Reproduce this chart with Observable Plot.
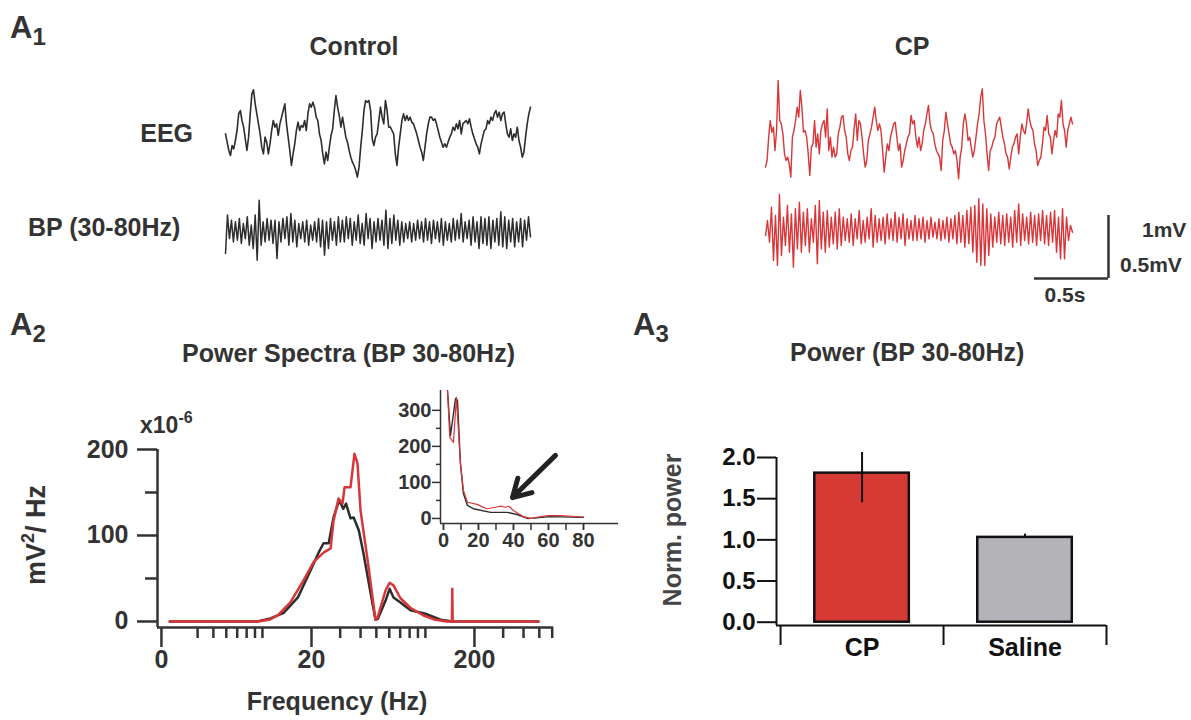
<!DOCTYPE html>
<html><head><meta charset="utf-8">
<script src="https://cdn.jsdelivr.net/npm/d3@7"></script>
<script src="https://cdn.jsdelivr.net/npm/@observablehq/plot@0.6"></script>
<style>
body{margin:0;background:#fff;}
#fig{position:relative;width:1191px;height:720px;overflow:hidden;background:#fff;}
</style></head><body><div id="fig"></div>
<script>
// ---------- A1 traces (µV, uniformly sampled over TRACE_SEC seconds) ----------
const TRACE_SEC = 2.06;
const controlEEG = [-50,-175,-300,-375,-225,-275,-150,0,250,300,150,50,-125,-300,-100,250,550,610,400,250,100,-50,-250,-350,-100,-175,-350,-200,0,150,50,100,-75,100,200,300,400,100,-100,-300,-525,-350,-200,0,125,0,75,50,150,0,250,400,350,425,350,200,150,-50,-150,-350,-500,-325,-450,-250,-75,25,300,525,350,225,50,200,50,-100,-175,-300,-400,-475,-525,-600,-700,-550,-250,0,300,450,425,450,300,-125,-225,-100,-50,150,350,200,100,450,300,50,50,0,-50,-350,-525,-250,-50,150,250,150,225,150,200,125,100,25,-50,-150,-250,-325,-450,-250,-50,100,200,200,150,175,100,0,-100,-175,-250,-200,-250,-175,-100,-50,50,0,100,25,150,-50,100,125,150,100,175,50,-50,-125,-200,-250,-350,-200,-100,0,25,150,100,200,150,250,300,200,275,150,250,275,100,-50,-100,25,-150,-50,-100,50,-150,-250,-400,-325,-100,100,250,350];
const controlBP = [-150,138,-38,100,-63,88,-50,113,-75,75,-38,125,-88,63,-113,138,-200,250,-88,88,-63,113,-50,100,-75,100,-188,88,-63,113,-38,125,-88,150,-63,100,-100,75,-38,88,-63,100,-88,63,-50,88,-63,113,-100,100,-163,88,-113,113,-50,88,-88,125,-63,100,-63,125,-38,113,-88,88,-50,138,-75,75,-88,150,-38,113,-113,88,-63,113,-50,100,-88,175,-113,113,-75,138,-50,100,-88,88,-63,75,-38,88,-63,75,-50,100,-38,88,-63,113,-50,88,-75,100,-38,88,-63,113,-88,88,-50,75,-63,113,-50,100,-38,150,-63,88,-38,100,-88,125,-63,88,-113,125,-75,113,-88,125,-113,100,-63,113,-88,163,-100,125,-113,100,-63,113,-100,88,-63,113,-100,100,-50,125,-25];
const cpEEG = [-550,-450,-100,150,-25,50,-300,0,750,150,100,-50,-350,-450,-400,-500,-700,-100,0,150,350,200,600,350,-25,0,-100,-350,-675,-250,-200,150,-250,-50,-350,0,100,150,-100,325,-300,-100,-400,-250,-400,-350,-50,50,200,225,0,-100,-350,-450,-300,-250,25,250,-150,150,100,-100,-350,-550,-450,-150,-50,50,200,350,150,0,100,0,-300,-625,-400,-200,-300,-100,0,100,125,-100,-300,-200,-550,-450,-300,-200,-100,-50,225,100,150,-100,-250,-100,-300,-200,0,100,250,375,100,0,-50,-200,-300,-350,-400,-600,-150,0,275,100,-50,-200,-250,-350,-300,-450,-725,-400,-250,100,250,100,-150,-100,-250,-400,-300,-100,100,250,500,625,150,-50,-350,-600,-300,-250,-150,-100,100,150,200,50,-100,-200,-350,-400,-575,-400,-250,-200,-100,-50,-350,-100,100,0,-50,100,325,150,50,0,-200,-300,-525,-450,-400,-200,50,0,225,-50,-100,-350,-150,0,-100,250,200,450,100,0,-250,0,100,200,100];
const cpBP = [-38,75,-88,175,-225,113,-263,270,-188,100,-113,188,-163,125,-275,163,-138,213,-163,138,-113,163,-163,88,-88,188,-250,225,-138,138,-163,150,-125,100,-100,138,-138,163,-113,100,-75,88,-88,125,-113,88,-63,150,-100,75,-88,100,-63,163,-125,113,-88,88,-75,100,-100,125,-63,88,-75,138,-88,100,-63,125,-113,88,-63,75,-75,113,-75,88,-63,100,-88,75,-63,100,-50,63,-63,88,-75,75,-63,100,-88,88,-63,113,-100,138,-88,113,-125,150,-100,175,-163,188,-238,238,-263,200,-263,163,-188,125,-125,100,-88,138,-100,113,-113,125,-88,100,-125,150,-88,200,-113,125,-75,100,-100,138,-88,113,-113,125,-75,150,-100,113,-113,138,-88,150,-163,100,-213,163,-213,100,-75,38,-13];
const scaleBarSec = [0.5];
const scaleBarMV = [1];

// ---------- A2 power spectra (x10^-6 mV²/Hz) ----------
const specBlackHz  = [2.7, 9.3, 11.2, 13.5, 16.5, 19.7, 22.1, 23.7, 25.5, 27.3, 29.6, 31.3, 32.6, 34.7, 36.3, 39, 41.7, 46.1, 49.4, 51, 56.9, 60.3, 63.7, 70.3, 81, 100, 124, 147, 494];
const specBlackPow = [0, 0, 3.5, 10, 28, 59, 80, 91, 91, 121, 141, 131, 137, 120, 121, 106, 79, 33, 2, 3, 24, 38, 28, 22, 13, 9, 2, 0, 0];
const specRedHz  = [2.7, 9.3, 11, 12.4, 14.8, 17.9, 20.6, 23.7, 26.2, 27.3, 29.3, 31, 31.9, 34.7, 36.7, 38.3, 40, 44, 49.4, 51, 56.9, 60.3, 63.7, 70.3, 80.9, 97.3, 115, 136, 145.5, 146.2, 147, 494];
const specRedPow = [0, 0, 2, 7, 22, 48, 69, 80, 85, 117, 143, 137, 156, 156, 195, 184, 129, 74, 2, 5, 36, 45, 42, 27, 16, 7, 2, 0, 0, 38, 0, 0];
const specYMajor = [0, 100, 200];
const specYMinor = [50, 150];
const specXMajor = [2.4, 20, 200];
const specXMajorLabels = ["0", "20", "200"];
const specXMinor = [4, 5, 6, 7, 8, 9, 10, 30, 40, 50, 60, 70, 80, 90, 100, 300, 400, 500, 600];

// inset
const insetBlackHz  = [2.3, 4, 6.9, 8, 9.7, 11.4, 13.7, 17, 26.9, 36.6, 42, 48, 51.6, 61, 80];
const insetBlackPow = [355, 230, 333, 328, 152, 69, 36, 27, 17, 17, 11, 0, 1, 5, 3];
const insetRedHz  = [2.3, 3.6, 5.7, 7.4, 9.7, 11.4, 13.7, 19.2, 24.8, 29.7, 32.6, 35.4, 37.3, 40, 45.7, 49.7, 59.4, 66.9, 80];
const insetRedPow = [355, 225, 211, 336, 152, 78, 45, 39, 27, 31, 34, 31, 34, 22, 5, 0, 8, 8, 4];
const insetYMajor = [0, 100, 200, 300];
const insetYMinor = [50, 150, 250];
const insetXTicks = [0, 10, 20, 30, 40, 50, 60, 70, 80];
const insetXLabels = [0, 20, 40, 60, 80];
const insetArrow = [{x1: 64, y1: 175, x2: 39.4, y2: 58}];

// ---------- A3 bars ----------
const barCategories = ["CP", "Saline"];
const barValues = [1.81, 1.03];
const barLow = [1.45, 1.03];
const barHigh = [2.06, 1.07];
const barColors = ["#d63a35", "#b4b4b8"];
const barYTicks = [0, 0.5, 1, 1.5, 2];

// ---------- rendering ----------
const FONT = '"Liberation Sans", Arial, Helvetica, sans-serif';
const INK = "#333333";
const BLACK = "#2d2d2d";
const RED = "#d9363a";
const fig = document.getElementById("fig");

function place(svg, left, top) {
  svg.setAttribute("style", `position:absolute;left:${left}px;top:${top}px;overflow:visible;background:none;max-width:none;font-family:${FONT};`);
  fig.appendChild(svg);
}

function trace(values, left, top, width, height, half, color, sw) {
  const data = values.map((v, i) => ({t: i / (values.length - 1) * TRACE_SEC, v}));
  const svg = Plot.plot({
    width, height, margin: 0,
    x: {domain: [0, TRACE_SEC], axis: null},
    y: {domain: [-half, half], axis: null},
    marks: [Plot.line(data, {x: "t", y: "v", stroke: color, strokeWidth: sw, strokeLinejoin: "round"})]
  });
  place(svg, left, top);
}

trace(controlEEG, 225, 80, 305, 100, 750, BLACK, 1.6);
trace(controlBP, 225, 195, 305, 76, 285, BLACK, 1.5);
trace(cpEEG, 765, 80, 307, 100, 750, RED, 1.4);
trace(cpBP, 765, 192, 307, 76, 285, RED, 1.4);

// scale bar
{
  const svg = Plot.plot({
    width: 74, height: 63, margin: 0,
    x: {domain: [0, scaleBarSec[0]], axis: null},
    y: {domain: [0, scaleBarMV[0]], axis: null},
    marks: [
      Plot.ruleY([0], {x1: 0, x2: scaleBarSec[0], stroke: INK, strokeWidth: 2.5}),
      Plot.ruleX(scaleBarSec, {y1: 0, y2: scaleBarMV[0], stroke: INK, strokeWidth: 2.5})
    ]
  });
  place(svg, 1034, 215);
}

// main spectrum
{
  const XMIN = 2.27, XMAX = 611, YMIN = -7, YMAX = 200;
  const H = 340, MT = 69, MB = 93;
  const black = specBlackHz.map((f, i) => ({f, p: specBlackPow[i]}));
  const red = specRedHz.map((f, i) => ({f, p: specRedPow[i]}));
  const majors = specXMajor.map((f, i) => ({f, label: specXMajorLabels[i]}));
  const common = {stroke: INK, strokeWidth: 2.5, label: null, fontSize: 25, fontWeight: "bold", fill: INK};
  const svg = Plot.plot({
    width: 580, height: H,
    marginLeft: 157, marginRight: 27, marginTop: MT, marginBottom: MB,
    x: {type: "log", domain: [XMIN, XMAX]},
    y: {domain: [YMIN, YMAX]},
    marks: [
      Plot.axisY(specYMajor, {...common, tickSize: 20, tickPadding: 9}),
      Plot.axisY(specYMinor, {...common, tickSize: 12, fill: "none"}),
      Plot.tickX(majors, {x: "f", stroke: INK, strokeWidth: 2.5, insetTop: H - MT - MB, insetBottom: -20}),
      Plot.axisX(specXMinor, {...common, tickSize: 11, fill: "none"}),
      Plot.text(majors, {x: "f", text: "label", frameAnchor: "bottom", dy: 40, fontSize: 25, fontWeight: "bold", fill: INK}),
      Plot.ruleX([XMIN], {y1: YMIN, y2: YMAX, stroke: INK, strokeWidth: 2.5}),
      Plot.ruleY([YMIN], {x1: XMIN, x2: XMAX, stroke: INK, strokeWidth: 2.5}),
      Plot.line(black, {x: "f", y: "p", stroke: BLACK, strokeWidth: 2.5}),
      Plot.line(red, {x: "f", y: "p", stroke: RED, strokeWidth: 2.5})
    ]
  });
  place(svg, 0, 380);
}

// inset
{
  const XMIN = -1.7, XMAX = 100, YMIN = -14, YMAX = 355;
  const black = insetBlackHz.map((f, i) => ({f, p: insetBlackPow[i]}));
  const red = insetRedHz.map((f, i) => ({f, p: insetRedPow[i]}));
  const common = {stroke: INK, strokeWidth: 1.5, label: null, fontSize: 20, fontWeight: "bold", fill: INK};
  const svg = Plot.plot({
    width: 230, height: 190,
    marginLeft: 40, marginRight: 12, marginTop: 20, marginBottom: 37,
    x: {domain: [XMIN, XMAX]},
    y: {domain: [YMIN, YMAX]},
    marks: [
      Plot.axisY(insetYMajor, {...common, tickSize: 8, tickPadding: 1}),
      Plot.axisY(insetYMinor, {...common, tickSize: 4, fill: "none"}),
      Plot.axisX(insetXTicks, {...common, tickSize: 7, fill: "none"}),
      Plot.axisX(insetXLabels, {...common, tickSize: 7, tickPadding: 2}),
      Plot.ruleX([XMIN], {y1: YMIN, y2: YMAX, stroke: INK, strokeWidth: 1.5}),
      Plot.ruleY([YMIN], {x1: XMIN, x2: XMAX, stroke: INK, strokeWidth: 1.5}),
      Plot.line(black, {x: "f", y: "p", stroke: BLACK, strokeWidth: 1.4}),
      Plot.line(red, {x: "f", y: "p", stroke: RED, strokeWidth: 1.2}),
      Plot.arrow(insetArrow, {x1: "x1", y1: "y1", x2: "x2", y2: "y2", stroke: "#222", strokeWidth: 5, headLength: 16})
    ]
  });
  place(svg, 400, 370);
}

// bar chart
{
  const XMIN = -0.025, XMAX = 2, YMIN = -0.04, YMAX = 2.0;
  const bars = barCategories.map((name, i) => ({i, name, v: barValues[i], lo: barLow[i], hi: barHigh[i], c: barColors[i]}));
  const common = {stroke: "#111", strokeWidth: 2, label: null, fontSize: 24, fontWeight: "bold", fill: "#111"};
  const svg = Plot.plot({
    width: 551, height: 290,
    marginLeft: 136, marginRight: 85, marginTop: 27, marginBottom: 95,
    x: {domain: [XMIN, XMAX]},
    y: {domain: [YMIN, YMAX]},
    marks: [
      Plot.rect(bars, {x1: d => d.i + 0.21, x2: d => d.i + 0.79, y1: 0, y2: "v", fill: "c", stroke: "#111", strokeWidth: 2.5}),
      Plot.ruleX(bars, {x: d => d.i + 0.5, y1: "lo", y2: "hi", stroke: "#111", strokeWidth: 2}),
      Plot.axisY(barYTicks, {...common, tickSize: 19, tickPadding: 2, tickFormat: d3.format(".1f")}),
      Plot.axisX([0, 1, 2], {...common, tickSize: 20, fill: "none"}),
      Plot.ruleX([XMIN], {y1: YMIN, y2: YMAX, stroke: "#111", strokeWidth: 2}),
      Plot.ruleY([YMIN], {x1: XMIN, x2: XMAX, stroke: "#111", strokeWidth: 2}),
      Plot.text(bars, {x: d => d.i + 0.5, frameAnchor: "bottom", dy: 30, text: "name", fontSize: 25, fontWeight: "bold", fill: "#111"})
    ]
  });
  place(svg, 640, 430);
}

// ---------- text overlay ----------
const ov = d3.select(fig).append("svg")
  .attr("width", 1191).attr("height", 720)
  .attr("style", `position:absolute;left:0;top:0;pointer-events:none;font-family:${FONT};font-weight:bold;`);
function txt(x, y, s, size, anchor = "start", fill = INK, rot = 0) {
  const t = ov.append("text").attr("x", x).attr("y", y).attr("font-size", size)
    .attr("text-anchor", anchor).attr("fill", fill).text(s);
  if (rot) t.attr("transform", `rotate(${rot},${x},${y})`);
  return t;
}
function panel(x, y, n) {
  const t = ov.append("text").attr("x", x).attr("y", y).attr("font-size", 31).attr("fill", INK);
  t.append("tspan").text("A");
  t.append("tspan").attr("font-size", 24).attr("dy", 7).text(n);
}
panel(10, 38, "1");
panel(10, 335, "2");
panel(633, 335, "3");
txt(354, 55, "Control", 25, "middle");
txt(912, 55, "CP", 25, "middle");
txt(193, 142, "EEG", 25, "end");
txt(28, 236, "BP (30-80Hz)", 25, "start");
txt(1142, 237, "1mV", 21);
txt(1120, 272, "0.5mV", 21);
txt(1065, 302, "0.5s", 21, "middle");
txt(182, 362, "Power Spectra (BP 30-80Hz)", 25);
txt(790, 361, "Power (BP 30-80Hz)", 25);
{
  const t = ov.append("text").attr("x", 140).attr("y", 433).attr("font-size", 23).attr("fill", INK);
  t.append("tspan").text("x10");
  t.append("tspan").attr("font-size", 16).attr("dy", -10).text("-6");
}
{
  const t = ov.append("text").attr("x", 45).attr("y", 535).attr("font-size", 27).attr("fill", INK)
    .attr("text-anchor", "middle").attr("transform", "rotate(-90,45,535)");
  t.append("tspan").text("mV");
  t.append("tspan").attr("font-size", 18).attr("dy", -11).text("2");
  t.append("tspan").attr("dy", 11).text("/ Hz");
}
txt(337, 710, "Frequency (Hz)", 25, "middle");
txt(681, 530, "Norm. power", 25, "middle", "#444", -90);
</script></body></html>
